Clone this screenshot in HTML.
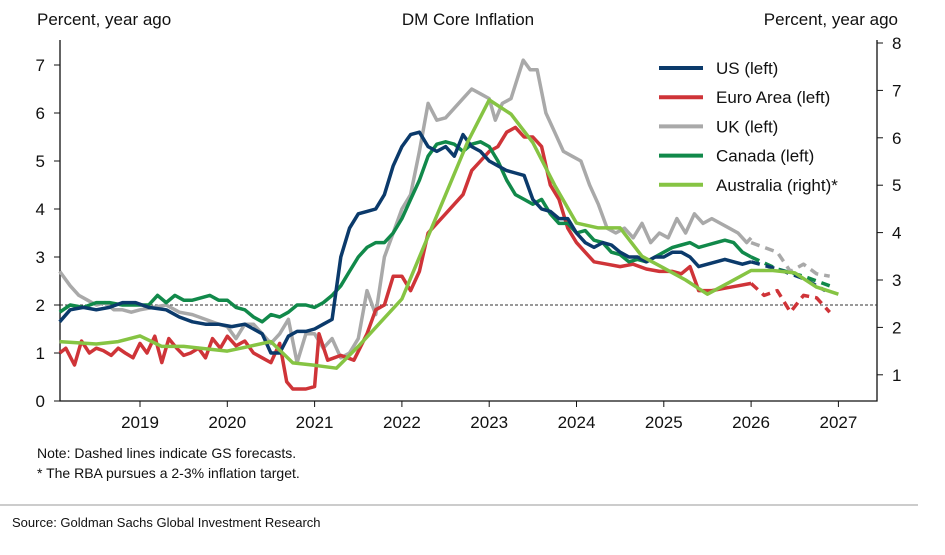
<!DOCTYPE html>
<html><head><meta charset="utf-8"><style>
body{margin:0;background:#fff;width:945px;height:550px;overflow:hidden;font-family:"Liberation Sans",Arial,sans-serif}
</style></head><body>
<svg id="chart" width="945" height="550" viewBox="0 0 945 550" xmlns="http://www.w3.org/2000/svg" font-family="Liberation Sans, Arial, sans-serif">
<text x="37" y="25" font-size="17" fill="#111">Percent, year ago</text>
<text x="468" y="25" font-size="17" fill="#111" text-anchor="middle">DM Core Inflation</text>
<text x="898" y="25" font-size="17" fill="#111" text-anchor="end">Percent, year ago</text>
<g id="axes"></g>
<g id="series"></g>
<g id="legend"></g>
<text x="37" y="458" font-size="14" fill="#111">Note: Dashed lines indicate GS forecasts.</text>
<text x="37" y="478" font-size="14" fill="#111">* The RBA pursues a 2-3% inflation target.</text>
<line x1="0" y1="505" x2="918" y2="505" stroke="#999" stroke-width="1"/>
<text x="12" y="527" font-size="13" fill="#111">Source: Goldman Sachs Global Investment Research</text>
</svg>
<script>
const leftTicks=[0,1,2,3,4,5,6,7];
const rightTicks=[1,2,3,4,5,6,7,8];
const yearTicks=[2019,2020,2021,2022,2023,2024,2025,2026,2027];
const usDates=[2018.08,2018.2,2018.35,2018.5,2018.65,2018.8,2018.95,2019.1,2019.3,2019.45,2019.6,2019.75,2019.9,2020.05,2020.2,2020.3,2020.4,2020.5,2020.6,2020.7,2020.8,2020.9,2021.0,2021.1,2021.2,2021.3,2021.4,2021.5,2021.6,2021.7,2021.8,2021.9,2022.0,2022.1,2022.2,2022.3,2022.4,2022.5,2022.6,2022.7,2022.8,2022.9,2023.0,2023.1,2023.2,2023.3,2023.4,2023.5,2023.6,2023.7,2023.8,2023.9,2024.0,2024.1,2024.2,2024.3,2024.4,2024.5,2024.6,2024.7,2024.8,2024.9,2025.0,2025.1,2025.2,2025.3,2025.4,2025.5,2025.6,2025.7,2025.8,2025.9,2026.0];
const usValues=[1.65,1.9,1.95,1.9,1.95,2.05,2.05,1.95,1.9,1.75,1.65,1.6,1.6,1.55,1.6,1.5,1.4,1.0,1.0,1.35,1.45,1.45,1.5,1.6,1.7,3.0,3.6,3.9,3.95,4.0,4.3,4.9,5.3,5.55,5.6,5.3,5.2,5.3,5.1,5.55,5.3,5.2,5.0,4.9,4.8,4.75,4.7,4.2,4.0,3.95,3.8,3.8,3.5,3.3,3.2,3.3,3.25,3.1,3.0,3.0,2.9,3.0,3.0,3.1,3.1,3.0,2.8,2.85,2.9,2.95,2.9,2.85,2.9];
const usFDates=[2026.0,2026.3,2026.6,2026.85];
const usFValues=[2.9,2.75,2.55,2.3];
const euDates=[2018.08,2018.15,2018.25,2018.33,2018.42,2018.5,2018.58,2018.67,2018.75,2018.83,2018.92,2019.0,2019.08,2019.17,2019.25,2019.33,2019.42,2019.5,2019.58,2019.67,2019.75,2019.83,2019.92,2020.0,2020.1,2020.2,2020.3,2020.4,2020.5,2020.6,2020.68,2020.75,2020.9,2021.0,2021.05,2021.15,2021.3,2021.45,2021.6,2021.7,2021.8,2021.9,2022.0,2022.1,2022.2,2022.3,2022.4,2022.5,2022.6,2022.7,2022.8,2022.9,2023.0,2023.1,2023.2,2023.3,2023.4,2023.5,2023.6,2023.7,2023.8,2023.9,2024.0,2024.1,2024.2,2024.35,2024.5,2024.65,2024.8,2024.95,2025.1,2025.2,2025.3,2025.4,2025.55,2025.7,2025.85,2026.0];
const euValues=[1.0,1.1,0.75,1.25,1.0,1.1,1.05,0.95,1.1,1.0,0.9,1.2,1.0,1.35,0.8,1.3,1.1,0.95,1.0,1.1,0.9,1.3,1.1,1.35,1.15,1.25,1.0,0.9,0.8,1.2,0.4,0.25,0.25,0.3,1.4,0.85,0.95,0.85,1.4,1.9,2.0,2.6,2.6,2.3,2.7,3.5,3.7,3.9,4.1,4.3,4.8,5.0,5.2,5.3,5.6,5.7,5.5,5.5,5.3,4.5,4.2,3.6,3.3,3.1,2.9,2.85,2.8,2.85,2.75,2.7,2.7,2.65,2.8,2.3,2.3,2.35,2.4,2.45];
const euFDates=[2026.0,2026.15,2026.3,2026.45,2026.6,2026.75,2026.9];
const euFValues=[2.45,2.2,2.3,1.85,2.2,2.15,1.85];
const ukDates=[2018.08,2018.2,2018.3,2018.4,2018.5,2018.6,2018.7,2018.8,2018.9,2019.0,2019.15,2019.3,2019.45,2019.6,2019.75,2019.9,2020.0,2020.1,2020.2,2020.3,2020.4,2020.5,2020.6,2020.7,2020.8,2020.9,2021.0,2021.1,2021.2,2021.3,2021.4,2021.5,2021.6,2021.7,2021.8,2021.9,2022.0,2022.1,2022.2,2022.3,2022.4,2022.5,2022.6,2022.7,2022.8,2022.9,2023.0,2023.07,2023.15,2023.25,2023.32,2023.39,2023.47,2023.55,2023.65,2023.75,2023.85,2023.95,2024.05,2024.15,2024.25,2024.35,2024.45,2024.55,2024.65,2024.75,2024.85,2024.95,2025.05,2025.15,2025.25,2025.35,2025.45,2025.55,2025.65,2025.75,2025.85,2025.95,2026.0];
const ukValues=[2.7,2.4,2.2,2.1,2.0,2.05,1.9,1.9,1.85,1.9,1.95,2.0,1.85,1.8,1.7,1.6,1.55,1.3,1.6,1.6,1.4,1.2,1.4,1.7,0.8,1.4,1.4,1.1,1.3,0.9,1.0,1.3,2.3,1.8,3.0,3.5,4.0,4.3,5.2,6.2,5.85,5.9,6.1,6.3,6.5,6.4,6.3,5.85,6.2,6.3,6.7,7.1,6.9,6.9,6.0,5.6,5.2,5.1,5.0,4.5,4.1,3.6,3.5,3.6,3.4,3.7,3.3,3.5,3.4,3.8,3.5,3.9,3.7,3.8,3.7,3.6,3.5,3.3,3.4];
const ukFDates=[2026.0,2026.15,2026.3,2026.45,2026.6,2026.75,2026.9];
const ukFValues=[3.3,3.2,3.1,2.7,2.85,2.65,2.6];
const caDates=[2018.08,2018.2,2018.35,2018.5,2018.65,2018.8,2018.95,2019.1,2019.2,2019.3,2019.4,2019.5,2019.6,2019.7,2019.8,2019.9,2020.0,2020.1,2020.2,2020.3,2020.4,2020.5,2020.6,2020.7,2020.8,2020.9,2021.0,2021.1,2021.2,2021.3,2021.4,2021.5,2021.6,2021.7,2021.8,2021.9,2022.0,2022.1,2022.2,2022.3,2022.4,2022.5,2022.6,2022.7,2022.8,2022.9,2023.0,2023.1,2023.2,2023.3,2023.4,2023.5,2023.6,2023.7,2023.8,2023.9,2024.0,2024.1,2024.2,2024.3,2024.4,2024.5,2024.6,2024.7,2024.8,2024.9,2025.0,2025.1,2025.2,2025.3,2025.4,2025.5,2025.6,2025.7,2025.8,2025.9,2026.0];
const caValues=[1.85,2.0,1.95,2.05,2.05,2.0,2.0,2.0,2.2,2.05,2.2,2.1,2.1,2.15,2.2,2.1,2.1,1.95,1.9,1.75,1.65,1.8,1.75,1.85,2.0,2.0,1.95,2.05,2.2,2.4,2.7,3.0,3.2,3.3,3.3,3.5,3.8,4.2,4.6,5.1,5.35,5.4,5.35,5.2,5.35,5.4,5.3,5.0,4.6,4.3,4.2,4.1,4.2,3.9,3.7,3.7,3.5,3.55,3.35,3.3,3.1,3.05,2.9,2.95,2.9,3.0,3.1,3.2,3.25,3.3,3.2,3.25,3.3,3.35,3.3,3.1,3.0];
const caFDates=[2026.0,2026.3,2026.6,2026.9];
const caFValues=[3.0,2.75,2.6,2.4];
const auDates=[2018.08,2018.5,2018.75,2019.0,2019.25,2019.5,2019.75,2020.0,2020.25,2020.5,2020.75,2021.0,2021.25,2021.5,2021.75,2022.0,2022.25,2022.5,2022.75,2023.0,2023.25,2023.5,2023.75,2024.0,2024.25,2024.5,2024.75,2025.0,2025.25,2025.5,2025.75,2026.0,2026.25,2026.5,2026.75,2027.0];
const auValues=[1.7,1.65,1.7,1.82,1.6,1.6,1.55,1.5,1.6,1.7,1.25,1.2,1.14,1.6,2.1,2.6,3.7,4.8,5.9,6.8,6.5,5.9,5.0,4.2,4.1,4.1,3.5,3.25,3.0,2.7,2.95,3.2,3.2,3.15,2.85,2.7];

const X0=140,XS=87.3;
function xs(d){return X0+(d-2019)*XS;}
function yl(v){return 401-v*48;}
function yr(v){return 43+(8-v)*47.4;}
const NS='http://www.w3.org/2000/svg';
const axes=document.getElementById('axes'),ser=document.getElementById('series'),leg=document.getElementById('legend');
function mk(tag,attrs,parent){const e=document.createElementNS(NS,tag);for(const k in attrs)e.setAttribute(k,attrs[k]);parent.appendChild(e);return e;}
let e;
e=mk('path',{d:'M60 40 V401 H877 V40',fill:'none',stroke:'#111','stroke-width':1.3},axes);


leftTicks.forEach(v=>{
 e=mk('line',{x1:54,x2:60,y1:yl(v),y2:yl(v),stroke:'#111'},axes);
 
 
 e=mk('text',{x:45,y:yl(v)+6,'font-size':17,'text-anchor':'end',fill:'#111'},axes);e.textContent=v;
 
 
});
rightTicks.forEach(v=>{
 e=mk('line',{x1:877,x2:883,y1:yr(v),y2:yr(v),stroke:'#111'},axes);
 
 
 e=mk('text',{x:892,y:yr(v)+6,'font-size':17,fill:'#111'},axes);e.textContent=v;
 
 
});
yearTicks.forEach(v=>{
 e=mk('line',{x1:xs(v),x2:xs(v),y1:401,y2:407,stroke:'#111'},axes);
 
 
 e=mk('text',{x:xs(v),y:428,'font-size':17,'text-anchor':'middle',fill:'#111'},axes);e.textContent=v;
 
 
});
e=mk('line',{x1:60,x2:877,y1:yl(2),y2:yl(2),stroke:'#333','stroke-dasharray':'3,2','stroke-width':1},axes);


function line(dates,vals,yf,color,dash,name){
 const d=dates.map((t,i)=>(i?'L':'M')+xs(t).toFixed(1)+' '+yf(vals[i]).toFixed(1)).join(' ');
 const p=mk('path',{d:d,fill:'none',stroke:color,'stroke-width':3.5,'stroke-linejoin':'round'},ser);
 if(dash)p.setAttribute('stroke-dasharray','9,6');
 
 
}
const C={us:'#0b3a6b',eu:'#cf3438',uk:'#a9a9a9',ca:'#11894a',au:'#86c443'};
line(ukDates,ukValues,yl,C.uk,false,'uk-line');
line(ukFDates,ukFValues,yl,C.uk,true,'uk-forecast-line');
line(euDates,euValues,yl,C.eu,false,'euro-area-line');
line(euFDates,euFValues,yl,C.eu,true,'euro-area-forecast-line');
line(caDates,caValues,yl,C.ca,false,'canada-line');
line(caFDates,caFValues,yl,C.ca,true,'canada-forecast-line');
line(usDates,usValues,yl,C.us,false,'us-line');
line(usFDates,usFValues,yl,C.us,true,'us-forecast-line');
line(auDates,auValues,yr,C.au,false,'australia-line');
const L=[['US (left)',C.us],['Euro Area (left)',C.eu],['UK (left)',C.uk],['Canada (left)',C.ca],['Australia (right)*',C.au]];
L.forEach((l,i)=>{
 const y=68+i*29.2;
 e=mk('line',{x1:659,x2:703,y1:y,y2:y,stroke:l[1],'stroke-width':4},leg);
 
 
 e=mk('text',{x:716,y:y+6,'font-size':17,fill:'#111'},leg);e.textContent=l[0];
 
 
});
</script>
</body></html>
